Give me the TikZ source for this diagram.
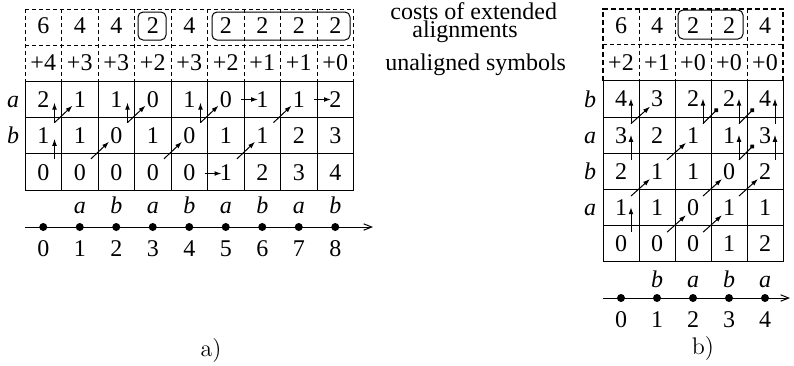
\documentclass[tikz,border=0pt]{standalone}
\usepackage{fontspec}
\newfontfamily\tms{Liberation Serif}
\usetikzlibrary{arrows.meta}
\begin{document}
\begin{tikzpicture}[x=0.5pt,y=-0.5pt,
  sgrid/.style={line width=0.5pt},
  dgrid/.style={line width=0.5pt, dash pattern=on 2pt off 1.5pt},
  tdgrid/.style={line width=1pt, dash pattern=on 2.5pt off 1.5pt},
  arr/.style={line width=0.5pt, -{Latex[length=3.5pt,width=2.4pt]}},
  dotarr/.style={line width=0.5pt, -{Circle[length=2.4pt]}},
  hl/.style={line width=0.5pt, rounded corners=2.5pt},
  num/.style={font=\tms\fontsize{12}{14}\selectfont, inner sep=0pt},
  lab/.style={font=\tms\itshape\fontsize{12}{14}\selectfont, inner sep=0pt, anchor=base},
  txt/.style={font=\tms\fontsize{12}{14}\selectfont, inner sep=0pt, anchor=base west},
  numlab/.style={font=\tms\fontsize{12}{14}\selectfont, inner sep=0pt, anchor=base},
  figlab/.style={font=\fontsize{12}{14}\selectfont, inner sep=0pt, anchor=base},
  dot/.style={circle, fill=black, inner sep=0pt, minimum size=4pt},
  nline/.style={line width=0.5pt, -{Straight Barb[length=4pt,width=3.2pt]}}]
\useasboundingbox (0,0) rectangle (794,365);

% ================= a) =================
% top dashed rows
\foreach \i in {0,...,9} \draw[dgrid] ({25+36.5*\i},9) -- ({25+36.5*\i},81.4);
\draw[dgrid] (25,9) -- (353.5,9);
\draw[dgrid] (25,45.2) -- (353.5,45.2);
% main grid
\draw[sgrid] (25,81.4) rectangle (353.5,190);
\foreach \i in {1,...,8} \draw[sgrid] ({25+36.5*\i},81.4) -- ({25+36.5*\i},190);
\draw[sgrid] (25,117.6) -- (353.5,117.6);
\draw[sgrid] (25,153.8) -- (353.5,153.8);
% highlighted costs
\draw[hl] (138,12) rectangle (166,40);
\draw[hl] (212,12) rectangle (350,40);
% texts
\foreach \v [count=\i from 0] in {6,4,4,2,4,2,2,2,2}
  \node[num] (ac\i) at ({43.25+36.5*\i},26) {\v};
\foreach \v [count=\i from 0] in {+4,+3,+3,+2,+3,+2,+1,+1,+0}
  \node[num] (au\i) at ({43.25+36.5*\i},62.5) {\v};
\foreach \v [count=\i from 0] in {2,1,1,0,1,0,1,1,2}
  \node[num] (aa\i) at ({43.25+36.5*\i},99.5) {\v};
\foreach \v [count=\i from 0] in {1,1,0,1,0,1,1,2,3}
  \node[num] (ab\i) at ({43.25+36.5*\i},135.7) {\v};
\foreach \v [count=\i from 0] in {0,0,0,0,0,1,2,3,4}
  \node[num] (az\i) at ({43.25+36.5*\i},172.5) {\v};
\node[lab] (ala) at (13,107.5) {a};
\node[lab] (alb) at (13,143.7) {b};
% arrows a)
\foreach \x in {54.5,127.5,200.5} \draw[arr] (\x,122.6) -- ++(0,-20);
\foreach \x in {54.5,127.5,200.5,273.5} \draw[arr] (\x,122.6) -- ++(18,-17);
\draw[arr] (54.5,158.8) -- ++(0,-20);
\foreach \x in {91,164,237} \draw[arr] (\x,158.8) -- ++(18,-17);
\draw[arr] (241,99.5) -- (258,99.5);
\draw[arr] (314,99.5) -- (331,99.5);
\draw[arr] (204.5,173.5) -- (221.5,173.5);
% number line a)
\coordinate (aL0) at (25,227);
\coordinate (aL1) at (373,227);
\draw[nline] (aL0) -- (aL1);
\foreach \i in {0,...,8} {
  \node[dot] (ap\i) at ({43.25+36.5*\i},227) {};
  \node[numlab] (an\i) at ({43.25+36.5*\i},256) {\i};
}
\foreach \s [count=\i from 1] in {a,b,a,b,a,b,a,b}
  \node[lab] (as\i) at ({43.25+36.5*\i},213) {\s};
\node[figlab] (capa) at (211,356) {a)};

% ================= b) =================
\foreach \i in {1,...,4} \draw[dgrid] ({603+36*\i},8.5) -- ({603+36*\i},80.9);
\draw[dgrid] (603,44.7) -- (783,44.7);
\draw[tdgrid] (603,80.9) -- (603,8.5) -- (783,8.5) -- (783,80.9);
\draw[sgrid] (603,80.9) rectangle (783,261.9);
\foreach \i in {1,...,4} \draw[sgrid] ({603+36*\i},80.9) -- ({603+36*\i},261.9);
\foreach \k in {1,...,4} \draw[sgrid] (603,{80.9+36.2*\k}) -- (783,{80.9+36.2*\k});
\draw[hl] (678,10) rectangle (743,39);
\foreach \v [count=\i from 0] in {6,4,2,2,4}
  \node[num] (bc\i) at ({621+36*\i},26) {\v};
\foreach \v [count=\i from 0] in {+2,+1,+0,+0,+0}
  \node[num] (bu\i) at ({621+36*\i},62.5) {\v};
\foreach \v [count=\i from 0] in {4,3,2,2,4}
  \node[num] (b4\i) at ({621+36*\i},99) {\v};
\foreach \v [count=\i from 0] in {3,2,1,1,3}
  \node[num] (b3\i) at ({621+36*\i},135.2) {\v};
\foreach \v [count=\i from 0] in {2,1,1,0,2}
  \node[num] (b2\i) at ({621+36*\i},171.4) {\v};
\foreach \v [count=\i from 0] in {1,1,0,1,1}
  \node[num] (b1\i) at ({621+36*\i},207.6) {\v};
\foreach \v [count=\i from 0] in {0,0,0,1,2}
  \node[num] (b0\i) at ({621+36*\i},243.8) {\v};
\node[lab] (bl4) at (590,107) {b};
\node[lab] (bl3) at (590,143.2) {a};
\node[lab] (bl2) at (590,179.4) {b};
\node[lab] (bl1) at (590,215.6) {a};
% arrows b)
\foreach \x in {631,703,739,775} \draw[arr] (\x,123.6) -- ++(0,-25);
\draw[arr] (631,123.6) -- ++(19,-17);
\foreach \x in {703,739} \draw[dotarr] (\x,123.6) -- ++(15,-15);
\foreach \x in {631,739,775} \draw[arr] (\x,159.8) -- ++(0,-25);
\draw[arr] (667,159.8) -- ++(19,-17);
\draw[dotarr] (739,159.8) -- ++(15,-15);
\foreach \x in {631,703,739} \draw[arr] (\x,196) -- ++(19,-17);
\draw[arr] (631,232.2) -- ++(0,-25);
\foreach \x in {667,703} \draw[arr] (\x,232.2) -- ++(19,-17);
% number line b)
\coordinate (bL0) at (603,298);
\coordinate (bL1) at (790,298);
\draw[nline] (bL0) -- (bL1);
\foreach \i in {0,...,4} {
  \node[dot] (bp\i) at ({621+36*\i},298) {};
  \node[numlab] (bn\i) at ({621+36*\i},327) {\i};
}
\foreach \s [count=\i from 1] in {b,a,b,a}
  \node[lab] (bs\i) at ({621+36*\i},287) {\s};
\node[figlab] (capb) at (703,354) {b)};

% ================= labels =================
\node[font=\tms\fontsize{12}{9.25}\selectfont, inner sep=0pt, align=left,
      anchor=north west] (t1) at (390,1.8)
      {costs of extended\\\hspace*{11pt}alignments};
\node[txt] (t3) at (385,70) {unaligned symbols};
\end{tikzpicture}
\end{document}
